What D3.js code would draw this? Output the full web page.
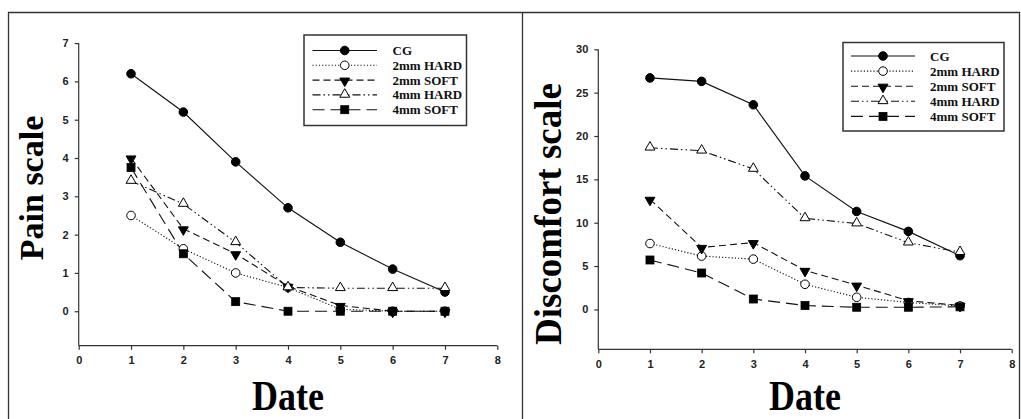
<!DOCTYPE html>
<html lang="en">
<head>
<meta charset="UTF-8">
<title>Pain and discomfort scale</title>
<script src="https://d3js.org/d3.v7.min.js"></script>
<style>
    body { margin: 0; background: #fff; }
    svg { display: block; }
    .axis text { font-family: "Liberation Sans", Arial, sans-serif; font-size: 11px; font-weight: bold; fill: #222; }
    .axis path, .axis line { stroke: #333; stroke-width: 1.2; }
    .title { font-family: "Liberation Serif", "Times New Roman", serif; font-weight: bold; fill: #000; }
    .legend text { font-family: "Liberation Serif", "Times New Roman", serif; font-weight: bold; font-size: 13px; fill: #111; }
</style>
</head>
<body>
<script>
    const days = [1, 2, 3, 4, 5, 6, 7];
    const seriesNames = ["CG", "2mm HARD", "2mm SOFT", "4mm HARD", "4mm SOFT"];

    // Pain scale
    const painCG = [6.2, 5.2, 3.9, 2.7, 1.8, 1.1, 0.5];
    const pain2mmHard = [2.5, 1.63, 1.0, 0.62, 0.05, 0, 0];
    const pain2mmSoft = [4.0, 2.15, 1.5, 0.65, 0.15, 0, 0];
    const pain4mmHard = [3.4, 2.8, 1.8, 0.62, 0.6, 0.6, 0.6];
    const pain4mmSoft = [3.75, 1.5, 0.25, 0, 0, 0, 0];

    // Discomfort scale
    const discCG = [26.7, 26.3, 23.6, 15.4, 11.3, 9.0, 6.2];
    const disc2mmHard = [7.6, 6.15, 5.8, 2.9, 1.4, 0.8, 0.4];
    const disc2mmSoft = [12.7, 7.15, 7.7, 4.5, 2.8, 1.0, 0.45];
    const disc4mmHard = [18.65, 18.3, 16.2, 10.5, 9.9, 7.7, 6.6];
    const disc4mmSoft = [5.7, 4.2, 1.2, 0.45, 0.25, 0.25, 0.3];

    const xTicks = [0, 1, 2, 3, 4, 5, 6, 7, 8];
    const painTicks = [0, 1, 2, 3, 4, 5, 6, 7];
    const discTicks = [0, 5, 10, 15, 20, 25, 30];

    const styles = [
        { dash: null, marker: "circle", fill: "#000" },
        { dash: "1.2,2", marker: "circle", fill: "#fff" },
        { dash: "7,4", marker: "down", fill: "#000" },
        { dash: "8,3,1.5,3,1.5,3", marker: "up", fill: "#fff" },
        { dash: "12,6", marker: "square", fill: "#000" }
    ];

    const width = 1021, height = 419;
    const svg = d3.select("body").append("svg")
        .attr("width", width)
        .attr("height", height);

    // frame
    const frame = svg.append("g").attr("stroke", "#333").attr("stroke-width", 1.3).attr("fill", "none");
    frame.append("path").attr("d", "M8.5,419 V12.5 H1019.5 V419");
    frame.append("line").attr("x1", 522.5).attr("x2", 522.5).attr("y1", 12.5).attr("y2", 419);

    function drawMarker(g, type, fill, x, y) {
        if (type === "circle") {
            g.append("circle").attr("cx", x).attr("cy", y).attr("r", 4.3)
                .attr("fill", fill).attr("stroke", "#000").attr("stroke-width", 1);
        } else if (type === "square") {
            g.append("rect").attr("x", x - 4).attr("y", y - 4).attr("width", 8).attr("height", 8)
                .attr("fill", fill).attr("stroke", "#000").attr("stroke-width", 0.8);
        } else {
            const sym = d3.symbol().type(d3.symbolTriangle).size(42);
            g.append("path").attr("d", sym())
                .attr("transform", "translate(" + x + "," + (y + (type === "down" ? 0.8 : -0.5)) + ")" + (type === "down" ? " rotate(180)" : ""))
                .attr("fill", fill).attr("stroke", "#000").attr("stroke-width", 1);
        }
    }

    function drawPanel(cfg) {
        const x = d3.scaleLinear().domain([0, 8]).range(cfg.xRange);
        const y = d3.scaleLinear().domain(cfg.yDomain).range(cfg.yRange);
        const g = svg.append("g");

        g.append("g").attr("class", "axis")
            .attr("transform", "translate(0," + cfg.yRange[0] + ")")
            .call(d3.axisBottom(x).tickValues(xTicks).tickSize(4).tickSizeOuter(0).tickPadding(7));
        g.append("g").attr("class", "axis")
            .attr("transform", "translate(" + cfg.xRange[0] + ",0)")
            .call(d3.axisLeft(y).tickValues(cfg.yTicks).tickSize(4).tickSizeOuter(0).tickPadding(6));
        // y axis line reaches the top tick only
        g.selectAll(".axis .domain").remove();
        g.append("line").attr("stroke", "#333").attr("stroke-width", 1.2)
            .attr("x1", cfg.xRange[0]).attr("x2", cfg.xRange[1])
            .attr("y1", cfg.yRange[0]).attr("y2", cfg.yRange[0]);
        g.append("line").attr("stroke", "#333").attr("stroke-width", 1.2)
            .attr("x1", cfg.xRange[0]).attr("x2", cfg.xRange[0])
            .attr("y1", cfg.yRange[0]).attr("y2", y(cfg.yTicks[cfg.yTicks.length - 1]));

        const line = d3.line().x((d, i) => x(days[i])).y(d => y(d));
        cfg.series.forEach((vals, k) => {
            g.append("path").datum(vals)
                .attr("d", line)
                .attr("fill", "none")
                .attr("stroke", "#111")
                .attr("stroke-width", 1.1)
                .attr("stroke-dasharray", styles[k].dash);
        });
        cfg.series.forEach((vals, k) => {
            vals.forEach((v, i) => drawMarker(g, styles[k].marker, styles[k].fill, x(days[i]), y(v)));
        });

        // y title
        g.append("text").attr("class", "title")
            .attr("transform", "translate(" + cfg.yTitleX + "," + cfg.yTitleY + ") rotate(-90)")
            .attr("text-anchor", "middle")
            .attr("font-size", cfg.yTitleSize + "px")
            .text(cfg.yTitle);
        // x title (tall, narrow face as in the original)
        g.append("text").attr("class", "title")
            .attr("transform", "translate(" + ((cfg.xRange[0] + cfg.xRange[1]) / 2) + ",409.5) scale(1,1.2)")
            .attr("text-anchor", "middle")
            .attr("font-size", "36px")
            .text("Date");

        // legend
        const L = cfg.legend;
        const lg = g.append("g").attr("class", "legend");
        lg.append("rect").attr("x", L.x).attr("y", L.y).attr("width", L.w).attr("height", L.h)
            .attr("fill", "#fff").attr("stroke", "#333").attr("stroke-width", 1.5);
        seriesNames.forEach((name, k) => {
            const ry = L.row0 + k * L.step;
            lg.append("line").attr("x1", L.lx1).attr("x2", L.lx2).attr("y1", ry).attr("y2", ry)
                .attr("stroke", "#111").attr("stroke-width", 1.1)
                .attr("stroke-dasharray", styles[k].dash);
            drawMarker(lg, styles[k].marker, styles[k].fill, (L.lx1 + L.lx2) / 2, ry);
            lg.append("text").attr("x", L.tx).attr("y", ry + 4.5).text(name);
        });
    }

    drawPanel({
        xRange: [78.7, 497.3],
        yDomain: [-0.9, 7],
        yRange: [345.7, 43.1],
        yTicks: painTicks,
        series: [painCG, pain2mmHard, pain2mmSoft, pain4mmHard, pain4mmSoft],
        yTitle: "Pain scale",
        yTitleSize: 34,
        yTitleX: 43,
        yTitleY: 188,
        legend: { x: 304, y: 35, w: 162.5, h: 90.5, row0: 50.5, step: 14.8, lx1: 312.5, lx2: 377, tx: 392.5 }
    });

    drawPanel({
        xRange: [598.3, 1011.7],
        yDomain: [-4.6, 30],
        yRange: [349.3, 49.3],
        yTicks: discTicks,
        series: [discCG, disc2mmHard, disc2mmSoft, disc4mmHard, disc4mmSoft],
        yTitle: "Discomfort scale",
        yTitleSize: 37,
        yTitleX: 561,
        yTitleY: 214,
        legend: { x: 843, y: 42.5, w: 161, h: 88.5, row0: 56, step: 15.1, lx1: 851, lx2: 915, tx: 930 }
    });
</script>
</body>
</html>
